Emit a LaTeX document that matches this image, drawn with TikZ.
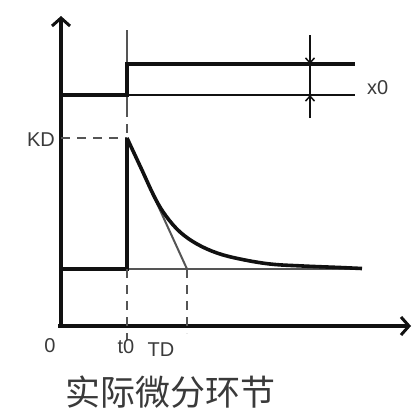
\documentclass[tikz,border=0pt]{standalone}
\usepackage{fontspec}
\setmainfont{Liberation Sans}
\newfontfamily\cjk{Noto Sans CJK SC}
\usetikzlibrary{arrows.meta}
\definecolor{ink}{HTML}{111111}
\definecolor{guidegray}{HTML}{555555}
\definecolor{labelgray}{HTML}{3A3A3A}
\tikzset{
  axis/.style={line width=3.6pt,draw=ink,-{Straight Barb[length=8pt,width=18pt,line width=3pt]}},
  signal/.style={line width=3.6pt,draw=ink},
  thinline/.style={line width=2pt,draw=ink},
  guide/.style={line width=2pt,draw=guidegray},
  guidedash/.style={guide,dash pattern=on 9pt off 7pt},
  marker/.style={line width=1.8pt,draw=ink,-{Straight Barb[length=5pt,width=9pt,line width=1.5pt]}},
  lbl/.style={font=\fontsize{20}{20}\selectfont,text=labelgray,inner sep=0pt},
  title/.style={font=\cjk\fontsize{35}{35}\selectfont,text=labelgray,inner sep=0pt}
}
\begin{document}
\begin{tikzpicture}[x=1pt,y=-1pt]
  \useasboundingbox (0,0) rectangle (419,418);
  % key points
  \coordinate (O) at (61,326);
  \coordinate (ytip) at (61,16);
  \coordinate (xtip) at (411,326);
  \coordinate (s0) at (127,95);
  \coordinate (s1) at (127,64);
  \coordinate (kd) at (127,138);
  \coordinate (b0) at (127,269);
  \coordinate (td) at (187,269);

  % axes
  \draw[axis] (58,326) -- (xtip);
  \draw[axis] (61,328) -- (ytip);

  % input step
  \draw[guide] (127,30) -- (127,108);
  \draw[guidedash] (127,108) -- (kd);
  \draw[signal] (61,95) -- (s0) -- (s1) -- (355,64);
  \draw[thinline] (s0) -- (355,95);

  % x0 marker
  \draw[thinline] (310,64) -- (310,95);
  \draw[marker] (310,35) -- (310,64);
  \draw[marker] (310,118) -- (310,95);
  \node[lbl,anchor=west] (x0) at (367,88) {x0};

  % output response
  \draw[guidedash] (61,138) -- (kd);
  \node[lbl,anchor=east] (KD) at (55,140) {KD};
  \draw[guide] (b0) -- (362,269);
  \draw[guide] (kd) -- (td);
  \draw[signal] (61,269) -- (b0) -- (kd);
  \draw[signal,line join=round] plot[smooth,tension=0.6] coordinates {(127,138) (141,168) (155,198) (166,216) (180,232) (197,244) (217,253) (240,259) (270,264) (303,266) (340,267.5) (362,268.5)};
  \draw[guidedash] (b0) -- (127,340);
  \draw[guidedash] (td) -- (187,333);

  % labels
  \node[lbl] (zero) at (50,346) {0};
  \node[lbl] (t0) at (126,347) {t0};
  \node[lbl] (TD) at (161,350) {TD};
  \node[title] (name) at (170,392) {实际微分环节};
\end{tikzpicture}
\end{document}
